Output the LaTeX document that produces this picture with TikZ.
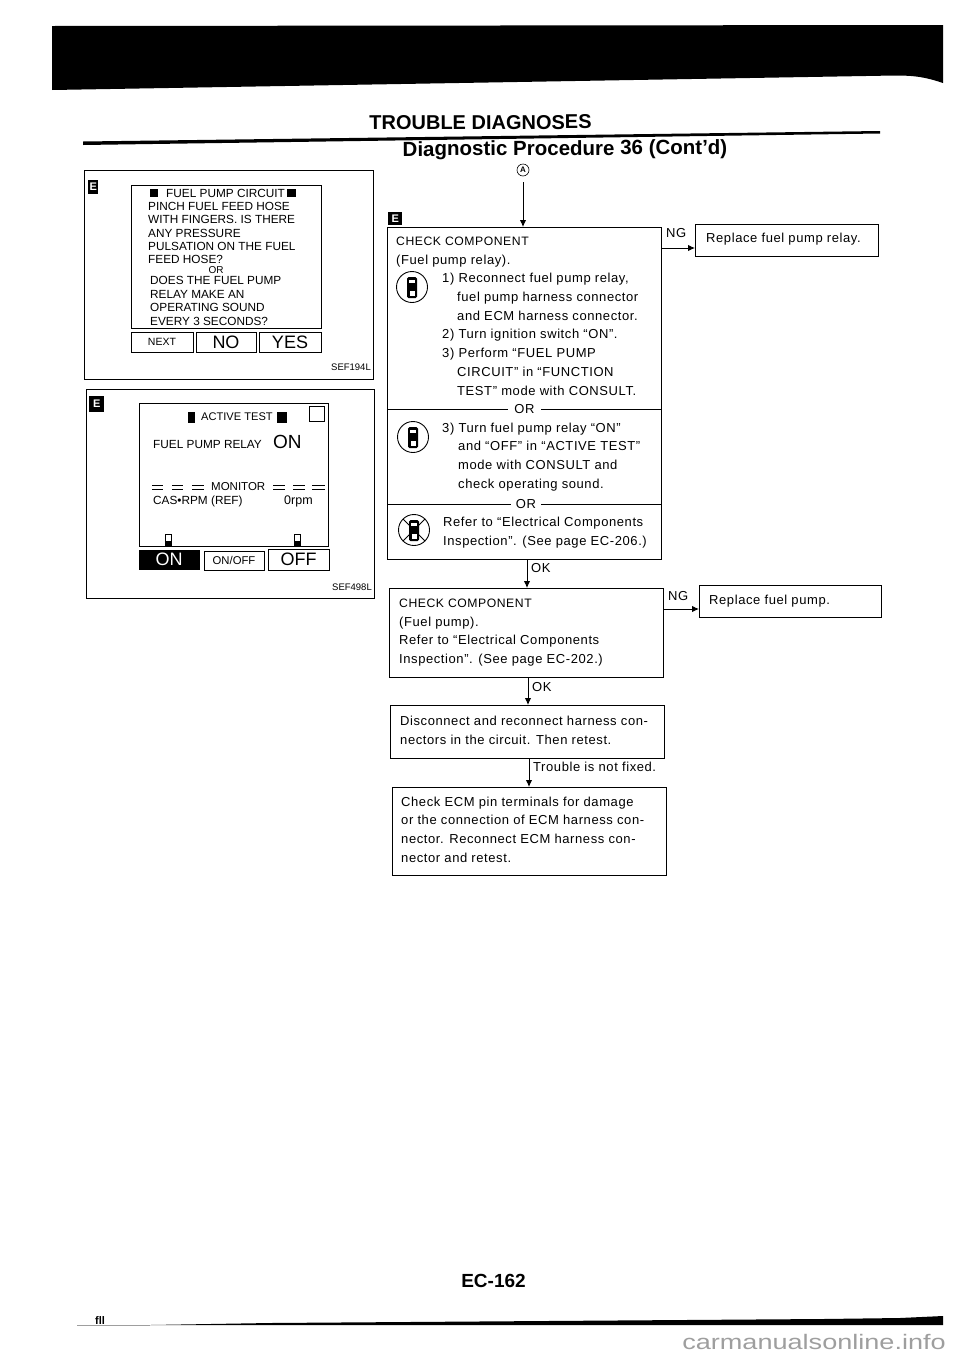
\documentclass[tikz,border=0pt]{standalone}
\usepackage{fontspec}
\usetikzlibrary{arrows.meta}
\setmainfont{Liberation Sans}
\newfontfamily\flowfam[LetterSpace=4.5]{Liberation Sans}
\newcommand{\flowfont}{\fontsize{13}{18.7}\selectfont\flowfam}
\newcommand{\flowcaps}{\fontsize{12.2}{18.7}\selectfont\flowfam CHECK COMPONENT}
\newcommand{\panelfont}{\fontsize{11.8}{13.4}\selectfont}
\definecolor{markgray}{gray}{0.62}

\tikzset{
  flowbox/.style={draw, line width=1pt, inner sep=0pt, outer sep=0pt, anchor=north west},
  softkey/.style={draw, line width=.8pt, inner sep=0pt, outer sep=0pt, anchor=north west},
  badge/.style={fill=black, text=white, inner sep=0pt, anchor=north west, font=\bfseries\fontsize{11}{11}\selectfont},
  flowtext/.style={anchor=west, align=left, inner sep=0pt, font=\flowfont},
  paneltext/.style={anchor=west, align=left, inner sep=0pt, font=\panelfont},
  flowarrow/.style={line width=1pt, -{Latex[length=7pt,width=6.5pt]}},
  relayicon/.pic={
    \draw[line width=.9pt] (0,0) circle (15.5pt);
    \fill[rounded corners=1.5pt] (-5,-10) rectangle (5,11);
    \fill[white] (-3,-7.5) rectangle (3,-4.5);
    \fill[white] (-2.5,4) rectangle (2.5,8.5);
  },
  handicon/.pic={
    \draw[fill=white, line width=.7pt] (-3,-7) rectangle (3,1);
    \fill (-3,0) rectangle (4,6);
  },
}

\begin{document}
\begin{tikzpicture}[x=1pt, y=-1pt]

    \useasboundingbox (0,0) rectangle (960,1358);

    % 页眉黑带
    \fill (52,26) -- (943,25) -- (943,83) .. controls (925,77) and (915,75.5) .. (895,75.5) -- (52,90) -- cycle;

    % 标题
    \node[inner sep=0pt, rotate=.3, font=\bfseries\fontsize{20}{20}\selectfont] (titlemain) at (480.5,122.5) {TROUBLE DIAGNOSES};
    \fill (83,141.5) -- (880,131) -- (880,133.5) -- (83,145) -- cycle;
    \node[inner sep=0pt, rotate=.3, font=\bfseries\fontsize{20.5}{20.5}\selectfont] (titlesub) at (565,150) {Diagnostic Procedure 36 (Cont'd)};

    % 左上面板
    \node[flowbox, minimum width=289pt, minimum height=209pt] (panelcircuit) at (84,170) {};
    \node[badge, minimum width=10pt, minimum height=14pt] (badgecircuit) at (88,180) {E};
    \node[flowbox, minimum width=190pt, minimum height=143pt] (screencircuit) at (131,185) {};
    \fill (150,189) rectangle (158,197);
    \node[paneltext] (headcircuit) at (166,193) {FUEL PUMP CIRCUIT};
    \fill (287,189) rectangle (296,197);
    \node[paneltext] (asktop) at (148,233) {PINCH FUEL FEED HOSE\\WITH FINGERS. IS THERE\\ANY PRESSURE\\PULSATION ON THE FUEL\\FEED HOSE?};
    \node[inner sep=0pt, font=\fontsize{10}{10}\selectfont] (askor) at (216,270) {OR};
    \node[paneltext] (askbottom) at (150,301) {DOES THE FUEL PUMP\\RELAY MAKE AN\\OPERATING SOUND\\EVERY 3 SECONDS?};
    \node[softkey, minimum width=62pt, minimum height=20pt, font=\fontsize{10.5}{10.5}\selectfont] (keynext) at (131,332) {NEXT};
    \node[softkey, minimum width=60pt, minimum height=20pt, font=\fontsize{18}{18}\selectfont] (keyno) at (196,332) {NO};
    \node[softkey, minimum width=62pt, minimum height=20pt, font=\fontsize{18}{18}\selectfont] (keyyes) at (259,332) {YES};
    \node[anchor=east, inner sep=0pt, font=\fontsize{9.5}{9.5}\selectfont] (codecircuit) at (371,367) {SEF194L};

    % 左下面板
    \node[flowbox, minimum width=288pt, minimum height=209pt] (paneltest) at (86,389) {};
    \node[badge, minimum width=15pt, minimum height=16pt] (badgetest) at (89,396) {E};
    \node[flowbox, minimum width=189pt, minimum height=143pt] (screentest) at (139,403) {};
    \fill (188,412) rectangle (195,423);
    \node[paneltext, font=\fontsize{11.1}{11.1}\selectfont] (headtest) at (201,417) {ACTIVE TEST};
    \fill (277,412) rectangle (287,423);
    \node[softkey, minimum width=15pt, minimum height=15pt] (tickbox) at (309,406) {};
    \node[paneltext] (relayname) at (153,444.5) {FUEL PUMP RELAY};
    \node[paneltext, font=\fontsize{19}{19}\selectfont] (relaystate) at (273,442) {ON};
    \draw[line width=.8pt] (152,485) -- (163,485) (152,489) -- (163,489) (172,485) -- (183,485) (172,489) -- (183,489);
    \draw[line width=.8pt] (192,485) -- (204,485) (192,489) -- (204,489) (273,485) -- (285,485) (273,489) -- (285,489);
    \draw[line width=.8pt] (293,485) -- (305,485) (293,489) -- (305,489) (312,485) -- (325,485) (312,489) -- (325,489);
    \node[paneltext, font=\fontsize{11.5}{11.5}\selectfont] (monitorname) at (211,487) {MONITOR};
    \node[paneltext] (casname) at (153,501) {CAS•RPM (REF)};
    \node[paneltext, font=\fontsize{12.5}{12.5}\selectfont] (casvalue) at (284,501) {0rpm};
    \pic at (168,541) {handicon};
    \pic at (297,541) {handicon};
    \node[softkey, fill=black, text=white, minimum width=60pt, minimum height=19pt, font=\fontsize{18}{18}\selectfont] (keyon) at (139,550) {ON};
    \node[softkey, minimum width=60pt, minimum height=19pt, font=\fontsize{11.3}{11.3}\selectfont] (keyonoff) at (204,551) {ON/OFF};
    \node[softkey, minimum width=61pt, minimum height=21pt, font=\fontsize{18}{18}\selectfont] (keyoff) at (268,549) {OFF};
    \node[anchor=east, inner sep=0pt, font=\fontsize{9.5}{9.5}\selectfont] (codetest) at (372,587) {SEF498L};

    % 流程框
    \node[draw, circle, line width=.6pt, minimum size=12pt, inner sep=0pt, font=\bfseries\fontsize{8}{8}\selectfont] (startmark) at (523,170) {A};
    \node[badge, minimum width=14pt, minimum height=13pt] (badgeflow) at (388,212) {E};
    \node[flowbox, minimum width=274pt, minimum height=332pt] (checkrelay) at (387.5,227) {};
    \node[flowbox, minimum width=274pt, minimum height=89pt] (checkpump) at (389,588) {};
    \node[flowbox, minimum width=274pt, minimum height=53pt] (reconnect) at (390,705) {};
    \node[flowbox, minimum width=274pt, minimum height=88pt] (checkecm) at (392,787) {};
    \node[flowbox, minimum width=183pt, minimum height=32pt] (replacerelay) at (695,224) {};
    \node[flowbox, minimum width=182pt, minimum height=32pt] (replacepump) at (699,585) {};

    % 框内文字
    \node[flowtext] (relayhead) at (396,252) {\flowcaps\\(Fuel pump relay).};
    \pic at (412,287) {relayicon};
    \node[flowtext] (stepone) at (442,279) {1) Reconnect fuel pump relay,};
    \node[flowtext] (steponemore) at (457,306.5) {fuel pump harness connector\\and ECM harness connector.};
    \node[flowtext] (steptwo) at (442,335) {2) Turn ignition switch “ON”.};
    \node[flowtext] (stepthree) at (442,354) {3) Perform “FUEL PUMP};
    \node[flowtext] (stepthreemore) at (457,381.5) {CIRCUIT” in “FUNCTION\\TEST” mode with CONSULT.};
    \node[inner sep=0pt, minimum width=33pt, font=\flowfont] (orupper) at (524.5,409) {OR};
    \pic at (413,437) {relayicon};
    \node[flowtext] (stepactive) at (442,429) {3) Turn fuel pump relay “ON”};
    \node[flowtext] (stepactivemore) at (458,466) {and “OFF” in “ACTIVE TEST”\\mode with CONSULT and\\check operating sound.};
    \node[inner sep=0pt, minimum width=30pt, font=\flowfont] (orlower) at (526,504) {OR};
    \pic at (414,530) {relayicon};
    \draw[line width=.9pt] (403,519) -- (425,541) (425,519) -- (403,541);
    \node[flowtext] (steprefer) at (443,532.5) {Refer to “Electrical Components\\Inspection”. (See page EC-206.)};
    \node[flowtext] (pumptext) at (399,632.5) {\flowcaps\\(Fuel pump).\\Refer to “Electrical Components\\Inspection”. (See page EC-202.)};
    \node[flowtext] (reconnecttext) at (400,730.5) {Disconnect and reconnect harness con-\\nectors in the circuit. Then retest.};
    \node[flowtext] (ecmtext) at (401,829.5) {Check ECM pin terminals for damage\\or the connection of ECM harness con-\\nector. Reconnect ECM harness con-\\nector and retest.};
    \node[flowtext] (relayfix) at (706,239) {Replace fuel pump relay.};
    \node[flowtext] (pumpfix) at (709,601) {Replace fuel pump.};

    % 分隔线
    \draw[line width=1pt] (checkrelay.west |- orupper) -- (orupper.west);
    \draw[line width=1pt] (orupper.east) -- (checkrelay.east |- orupper);
    \draw[line width=1pt] (checkrelay.west |- orlower) -- (orlower.west);
    \draw[line width=1pt] (orlower.east) -- (checkrelay.east |- orlower);

    % 箭头
    \draw[flowarrow, shorten <=6pt] (startmark.south) -- (startmark |- checkrelay.north);
    \coordinate (okone) at (527,570);
    \coordinate (oktwo) at (528,690);
    \coordinate (okthree) at (529,770);
    \coordinate (ngone) at (680,248);
    \coordinate (ngtwo) at (680,609);
    \draw[flowarrow] (okone |- checkrelay.south) -- (okone |- checkpump.north);
    \draw[flowarrow] (oktwo |- checkpump.south) -- (oktwo |- reconnect.north);
    \draw[flowarrow] (okthree |- reconnect.south) -- (okthree |- checkecm.north);
    \draw[flowarrow] (checkrelay.east |- ngone) -- (replacerelay.west |- ngone);
    \draw[flowarrow] (checkpump.east |- ngtwo) -- (replacepump.west |- ngtwo);

    % 箭头旁文字
    \node[flowtext] (okonelabel) at (531,568) {OK};
    \node[flowtext] (oktwolabel) at (532,687) {OK};
    \node[flowtext] (troublelabel) at (533,767) {Trouble is not fixed.};
    \node[flowtext] (ngonelabel) at (666,233) {NG};
    \node[flowtext] (ngtwolabel) at (668,596) {NG};

    % 页脚
    \node[inner sep=0pt, font=\bfseries\fontsize{19}{19}\selectfont] (pagenumber) at (493.5,1281) {EC-162};
    \node[anchor=west, inner sep=0pt, font=\bfseries\fontsize{11}{11}\selectfont] (footmark) at (95,1320) {fll};
    \draw[markgray, line width=.6pt] (77,1325) -- (150,1325);
    \fill (150,1325) -- (270,1323) -- (823,1319) -- (900,1318) -- (943,1316) -- (943,1325) -- cycle;
    \node[anchor=east, inner sep=0pt, text=markgray, font=\fontsize{21}{21}\selectfont] (watermark) at (946,1342) {\scalebox{1.29}[1]{carmanualsonline.info}};

  \end{tikzpicture}
\end{document}
